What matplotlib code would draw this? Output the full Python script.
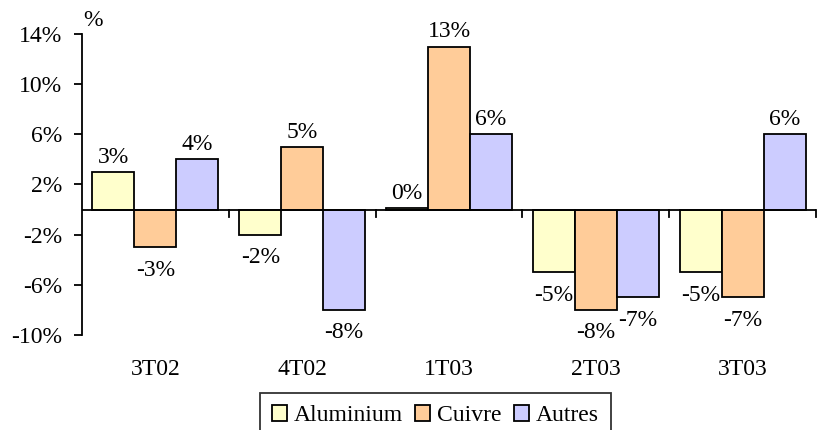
import numpy as np
import matplotlib
matplotlib.use('Agg')
import matplotlib.pyplot as plt

plt.rcParams['font.family'] = ['Liberation Serif', 'DejaVu Serif']

quarters = ['3T02', '4T02', '1T03', '2T03', '3T03']
series = ['Aluminium', 'Cuivre', 'Autres']
aluminium = [3, -2, 0.1, -5, -5]
cuivre = [-3, 5, 13, -8, -7]
autres = [4, -8, 6, -7, 6]
labels = [['3%', '-2%', '0%', '-5%', '-5%'],
          ['-3%', '5%', '13%', '-8%', '-7%'],
          ['4%', '-8%', '6%', '-7%', '6%']]
colors = ['#FFFFCC', '#FFCC99', '#CCCCFF']
yticks = [-10, -6, -2, 2, 6, 10, 14]

fs = 17
fig = plt.figure(figsize=(8.23, 4.30), dpi=100)
ax = fig.add_axes([0.0996, 0.221, 0.8919, 0.700])

x = np.arange(len(quarters))
w = 0.286
for i, vals in enumerate([aluminium, cuivre, autres]):
    pos = x + (i - 1) * w
    ax.bar(pos, vals, width=w, color=colors[i], edgecolor='black',
           linewidth=1.3, label=series[i], zorder=2)
    for px, v, t in zip(pos, vals, labels[i]):
        if v >= 0:
            ax.annotate(t, (px, v), xytext=(0, 3), textcoords='offset points',
                        ha='center', va='bottom', fontsize=fs)
        else:
            ax.annotate(t, (px, v), xytext=(0, -9), textcoords='offset points',
                        ha='center', va='top', fontsize=fs)

ax.set_xlim(-0.5, len(quarters) - 0.5)
ax.set_ylim(-10, 14)
ax.set_yticks(yticks)
ax.set_yticklabels([f'{t}%' for t in yticks], fontsize=fs)
ax.tick_params(axis='y', direction='out', length=6, width=1.3, pad=8)

for s in ['top', 'right', 'bottom']:
    ax.spines[s].set_visible(False)
ax.spines['left'].set_linewidth(1.3)
ax.axhline(0, color='black', linewidth=1.3, zorder=3)

# category boundary ticks on the zero line
ax.set_xticks([])
for b in np.arange(0.5, len(quarters), 1.0):
    ax.plot([b, b], [0, -0.6], color='black', linewidth=1.3, clip_on=False)
for xi, q in zip(x, quarters):
    ax.text(xi, -12.75, q, ha='center', va='center', fontsize=fs)

ax.text(0.002, 1.01, '%', transform=ax.transAxes, fontsize=fs,
        ha='left', va='bottom')

leg = fig.legend(loc='upper center', bbox_to_anchor=(0.529, 0.086),
                 ncol=3, fontsize=fs, frameon=True, fancybox=False,
                 handlelength=0.65, handleheight=0.65, handletextpad=0.3,
                 columnspacing=0.5, borderpad=0.5, borderaxespad=0)
leg.get_frame().set_edgecolor('black')
leg.get_frame().set_linewidth(1.3)

fig.savefig('out.png', dpi=100)
